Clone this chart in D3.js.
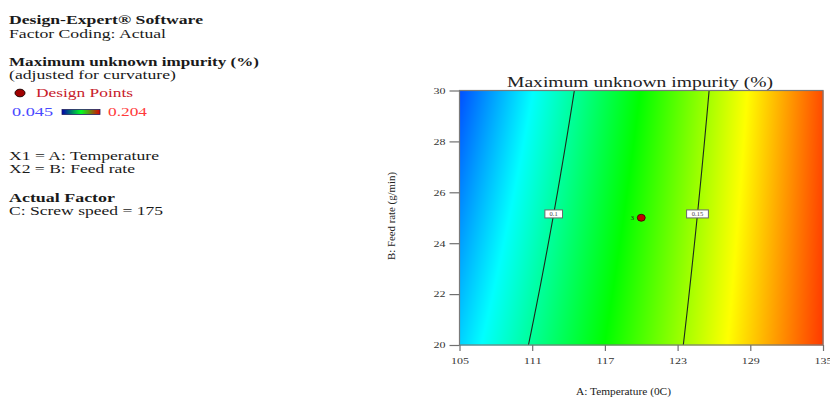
<!DOCTYPE html>
<html>
<head>
<meta charset="utf-8">
<script src="https://cdn.jsdelivr.net/npm/d3@7/dist/d3.min.js"></script>
<style>
  html, body { margin: 0; padding: 0; background: #fff; }
  svg { display: block; }
  text { font-family: "Liberation Serif", "Times New Roman", serif; }
</style>
</head>
<body>
<svg id="chart" width="830" height="398"></svg>
<script>
// Fitted response (actual factors): impurity = c0 + cA*A + cB*B + cAB*A*B
const modelTerms = ["Intercept", "A", "B", "AB"];
const modelCoefs = [-0.16966, 0.002744, -0.008168, 0.0000584];

// Factor ranges and ticks
const tempDomain = [105, 135];
const feedDomain = [20, 30];
const tempTicks = [105, 111, 117, 123, 129, 135];
const feedTicks = [20, 22, 24, 26, 28, 30];

// Colour legend range
const legendMin = 0.045;
const legendMax = 0.204;
const rampColors = ["#0000ff", "#00ffff", "#00ff00", "#ffff00", "#ff0000"];

// Contour lines and where their labels sit (feed rate)
const contourLevels = [0.1, 0.15];
const contourLabels = ["0.1", "0.15"];
const contourLabelFeed = [25.15, 25.15];

// Design points
const designTemp = [120];
const designFeed = [25];
const designReps = [3];

// Side panel text
const infoLines = [
  { t: "Design-Expert® Software", b: true, y: 24, w: 194 },
  { t: "Factor Coding: Actual", b: false, y: 38, w: 157 },
  { t: "Maximum unknown impurity (%)", b: true, y: 66, w: 250 },
  { t: "(adjusted for curvature)", b: false, y: 79, w: 167 },
  { t: "X1 = A: Temperature", b: false, y: 160, w: 150 },
  { t: "X2 = B: Feed rate", b: false, y: 173, w: 126 },
  { t: "Actual Factor", b: true, y: 202, w: 106 },
  { t: "C: Screw speed = 175", b: false, y: 215, w: 154 }
];

const [c0, cA, cB, cAB] = modelCoefs;
const response = (A, B) => c0 + cA * A + cB * B + cAB * A * B;
// Temperature at which the response equals a level for a given feed rate
const tempAtLevel = (level, B) => (level - c0 - cB * B) / (cA + cAB * B);

const svg = d3.select("#chart");
svg.append("rect").attr("width", 830).attr("height", 398).attr("fill", "#fff");

const plot = { left: 459.5, right: 823, top: 90.5, bottom: 345 };
const x = d3.scaleLinear().domain(tempDomain).range([plot.left, plot.right]);
const y = d3.scaleLinear().domain(feedDomain).range([plot.bottom, plot.top]);

const color = d3.scaleLinear()
  .domain(rampColors.map((_, i) => legendMin + i * (legendMax - legendMin) / (rampColors.length - 1)))
  .range(rampColors)
  .clamp(true);

// ---- Response surface raster ----
const W = Math.round(plot.right - plot.left);
const H = Math.round(plot.bottom - plot.top);
const canvas = document.createElement("canvas");
canvas.width = W; canvas.height = H;
const ctx = canvas.getContext("2d");
const img = ctx.createImageData(W, H);
for (let py = 0; py < H; py++) {
  const B = y.invert(plot.top + py + 0.5);
  for (let px = 0; px < W; px++) {
    const A = x.invert(plot.left + px + 0.5);
    const c = d3.rgb(color(response(A, B)));
    const k = 4 * (py * W + px);
    img.data[k] = c.r; img.data[k + 1] = c.g; img.data[k + 2] = c.b; img.data[k + 3] = 255;
  }
}
ctx.putImageData(img, 0, 0);
svg.append("image")
  .attr("x", plot.left).attr("y", plot.top)
  .attr("width", W).attr("height", H)
  .attr("preserveAspectRatio", "none")
  .attr("href", canvas.toDataURL());

// ---- Contours ----
const feedSamples = d3.range(feedDomain[0], feedDomain[1] + 1e-9, 0.25);
const line = d3.line().x(d => x(d[0])).y(d => y(d[1]));
contourLevels.forEach((lev, i) => {
  const pts = feedSamples.map(B => [tempAtLevel(lev, B), B]);
  svg.append("path").attr("d", line(pts))
    .attr("fill", "none").attr("stroke", "#1c2a1c").attr("stroke-width", 1.1);
  const lb = contourLabelFeed[i];
  const cx = x(tempAtLevel(lev, lb)), cy = y(lb);
  const bw = contourLabels[i].length * 4.2 + 5;
  svg.append("rect")
    .attr("x", cx - bw / 2).attr("y", cy - 4).attr("width", bw).attr("height", 8)
    .attr("fill", "#fff").attr("stroke", "#6a6a6a").attr("stroke-width", 1);
  svg.append("text").attr("x", cx).attr("y", cy + 2.2)
    .attr("text-anchor", "middle").attr("font-size", 6.5).attr("fill", "#444")
    .text(contourLabels[i]);
});

// ---- Design points ----
designTemp.forEach((A, i) => {
  const px = x(A), py = y(designFeed[i]);
  svg.append("ellipse").attr("cx", px).attr("cy", py).attr("rx", 4).attr("ry", 3.5)
    .attr("fill", "#c00000").attr("stroke", "#3a0000").attr("stroke-width", 0.8);
  svg.append("text").attr("x", px - 9).attr("y", py + 2.5)
    .attr("text-anchor", "middle").attr("font-size", 6.5).attr("fill", "#222")
    .text(designReps[i]);
});

// ---- Frame and axes ----
svg.append("rect")
  .attr("x", plot.left).attr("y", plot.top)
  .attr("width", plot.right - plot.left).attr("height", plot.bottom - plot.top)
  .attr("fill", "none").attr("stroke", "#7a7a7a").attr("stroke-width", 1.2);

const xAxis = svg.append("g").attr("transform", `translate(0,${plot.bottom})`)
  .call(d3.axisBottom(x).tickValues(tempTicks).tickSize(6).tickPadding(7).tickFormat(d3.format("d")));
const yAxis = svg.append("g").attr("transform", `translate(${plot.left},0)`)
  .call(d3.axisLeft(y).tickValues(feedTicks).tickSize(10).tickPadding(4).tickFormat(d3.format("d")));
[xAxis, yAxis].forEach(g => {
  g.select(".domain").remove();
  g.selectAll(".tick line").attr("stroke", "#707070").attr("stroke-width", 1.2);
  g.selectAll(".tick text")
    .attr("font-family", "Liberation Serif, serif").attr("font-size", 9).attr("fill", "#333")
    .attr("lengthAdjust", "spacingAndGlyphs")
    .attr("textLength", function () { return this.textContent.length * 6; });
});

// Titles
svg.append("text").attr("x", 640).attr("y", 87).attr("text-anchor", "middle")
  .attr("font-size", 15).attr("fill", "#222")
  .attr("textLength", 266).attr("lengthAdjust", "spacingAndGlyphs")
  .text("Maximum unknown impurity (%)");
svg.append("text").attr("x", 623.5).attr("y", 395).attr("text-anchor", "middle")
  .attr("font-size", 10.5).attr("fill", "#222")
  .attr("textLength", 95).attr("lengthAdjust", "spacingAndGlyphs")
  .text("A: Temperature (0C)");
svg.append("text").attr("transform", "translate(395,216) rotate(-90)")
  .attr("text-anchor", "middle").attr("font-size", 10).attr("fill", "#222")
  .attr("textLength", 88).attr("lengthAdjust", "spacingAndGlyphs")
  .text("B: Feed rate (g/min)");

// ---- Side panel ----
const info = svg.append("g");
infoLines.forEach(d => {
  info.append("text").attr("x", 9).attr("y", d.y)
    .attr("font-size", 12).attr("font-weight", d.b ? "bold" : "normal").attr("fill", "#1a1a1a")
    .attr("textLength", d.w).attr("lengthAdjust", "spacingAndGlyphs")
    .text(d.t);
});
info.append("ellipse").attr("cx", 20).attr("cy", 93).attr("rx", 5).attr("ry", 3.8)
  .attr("fill", "#a00000").attr("stroke", "#220000").attr("stroke-width", 1);
info.append("text").attr("x", 36).attr("y", 97).attr("font-size", 12.5).attr("fill", "#c8202a")
  .attr("textLength", 97).attr("lengthAdjust", "spacingAndGlyphs").text("Design Points");

const grad = svg.append("defs").append("linearGradient").attr("id", "legendRamp");
[["0%", "#0000b0"], ["50%", "#00ff20"], ["100%", "#e00000"]].forEach(s =>
  grad.append("stop").attr("offset", s[0]).attr("stop-color", s[1]));
info.append("text").attr("x", 12).attr("y", 115.5).attr("font-size", 12.5).attr("fill", "#4a4aff")
  .attr("textLength", 41).attr("lengthAdjust", "spacingAndGlyphs").text(legendMin.toFixed(3));
info.append("rect").attr("x", 62).attr("y", 109.5).attr("width", 38).attr("height", 5)
  .attr("fill", "url(#legendRamp)").attr("stroke", "#202060").attr("stroke-width", 0.8);
info.append("text").attr("x", 108).attr("y", 115.5).attr("font-size", 12.5).attr("fill", "#ff3a3a")
  .attr("textLength", 39).attr("lengthAdjust", "spacingAndGlyphs").text(legendMax.toFixed(3));
</script>
</body>
</html>
